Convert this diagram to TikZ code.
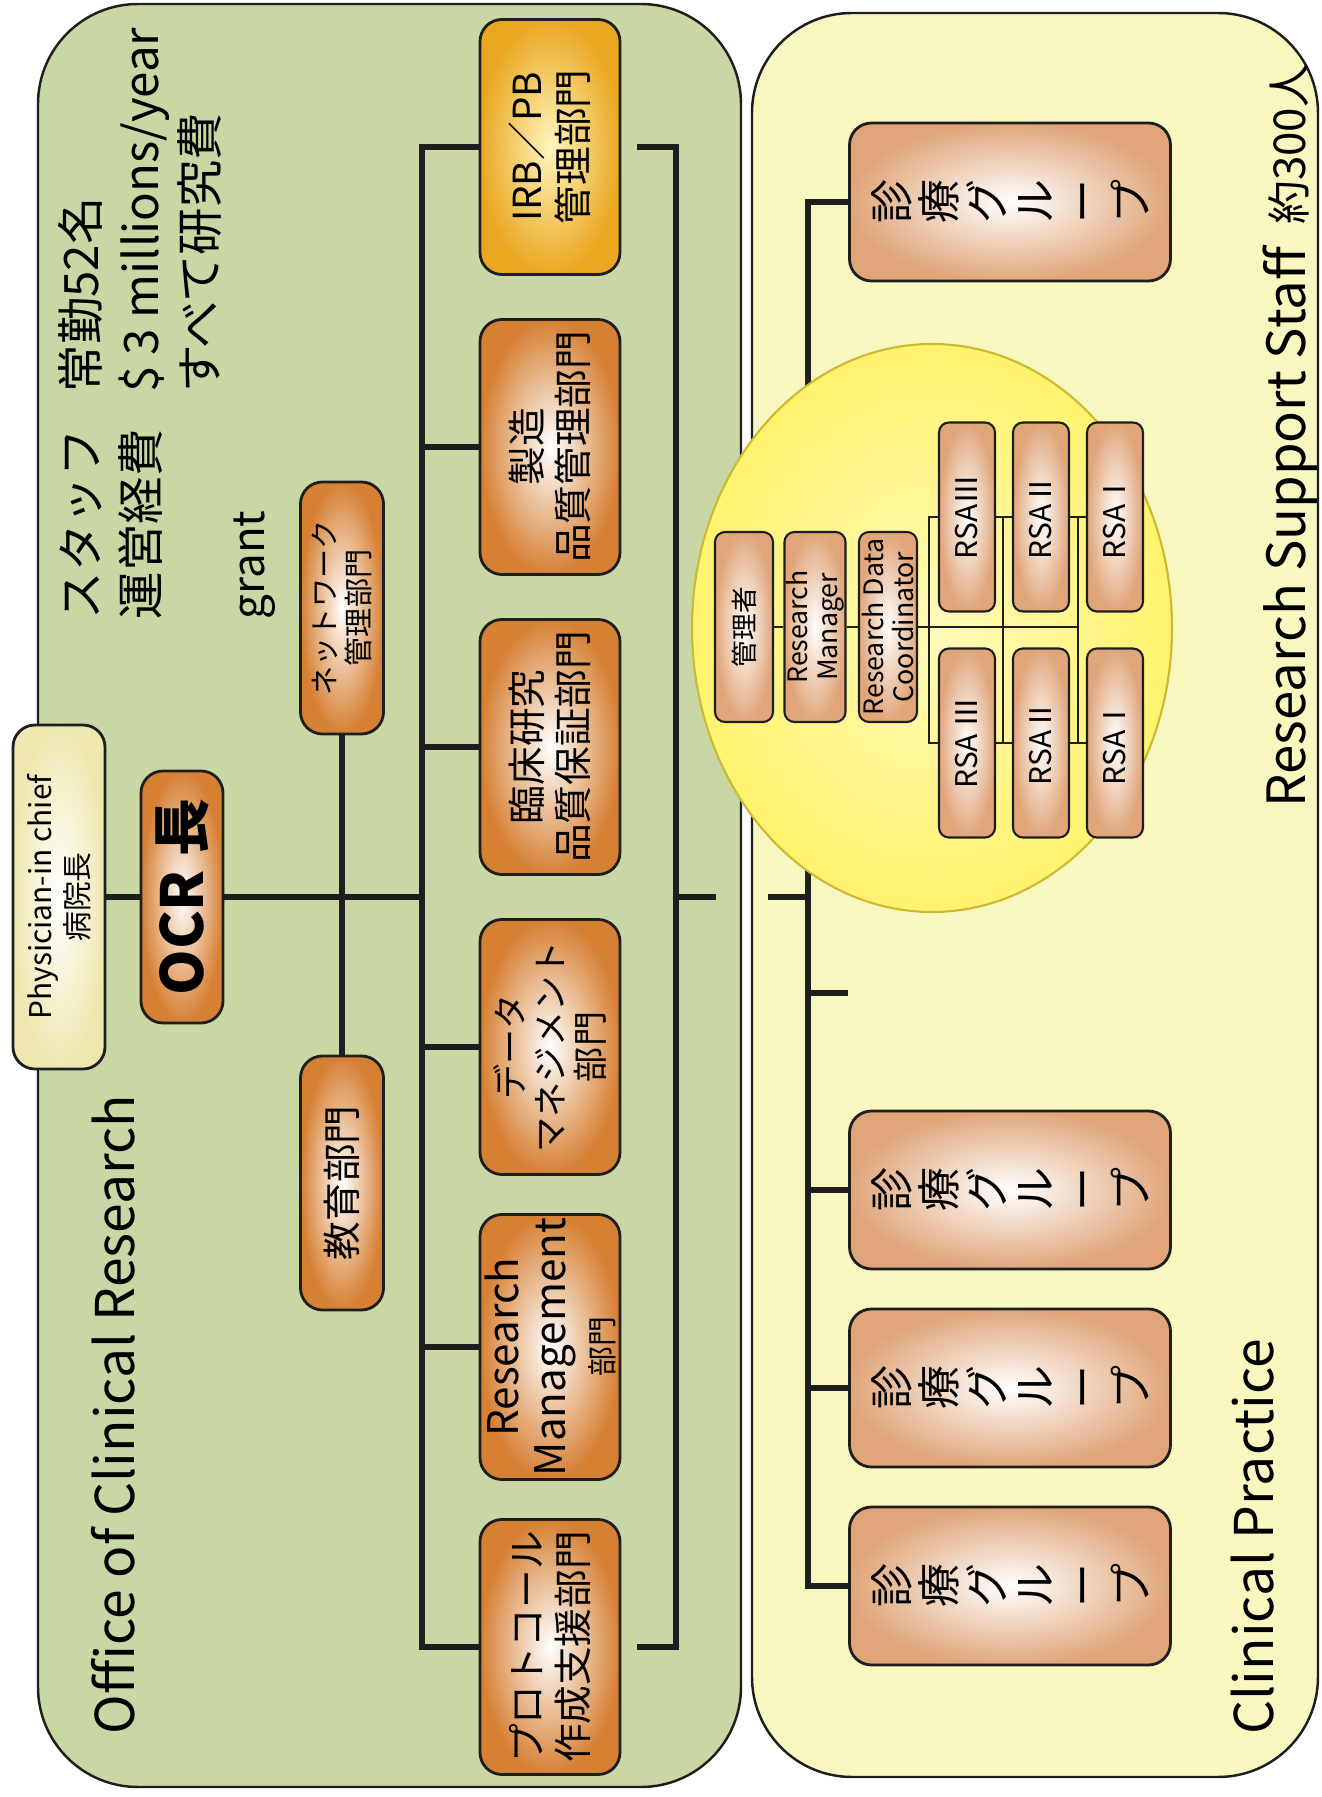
\documentclass[tikz,border=0pt]{standalone}
\usepackage{fontspec}
\setmainfont{Noto Sans CJK JP}
\usetikzlibrary{shapes.geometric, positioning, calc}

\definecolor{ocrgreen}{RGB}{200,215,163}
\definecolor{cpyellow}{RGB}{249,247,192}
\definecolor{deptorange}{RGB}{214,128,52}
\definecolor{irbgold}{RGB}{234,168,34}
\definecolor{irbglow}{RGB}{255,246,190}
\definecolor{groupsalmon}{RGB}{224,166,122}
\definecolor{chiefcream}{RGB}{238,232,176}
\definecolor{rssfill}{RGB}{255,243,110}
\definecolor{rssglow}{RGB}{255,250,185}
\definecolor{rssedge}{RGB}{205,185,50}
\definecolor{inkline}{RGB}{30,30,30}

\begin{document}
\begin{tikzpicture}[
    panel/.style={draw=inkline, line width=0.7pt, rounded corners=1cm},
    dept/.style={rectangle, rounded corners=0.22cm, draw=inkline, line width=0.8pt, inner color=white, outer color=deptorange, minimum width=2.55cm, minimum height=1.4cm, align=center, inner sep=1pt, font=\fontsize{11}{13}\selectfont},
    chief/.style={dept, outer color=chiefcream, minimum width=3.44cm, minimum height=0.92cm, font=\fontsize{8.5}{10.5}\selectfont},
    group/.style={dept, outer color=groupsalmon, minimum width=1.58cm, minimum height=3.21cm, font=\fontsize{12.5}{13.6}\selectfont},
    staffbox/.style={dept, rounded corners=0.1cm, line width=0.6pt, outer color=groupsalmon, minimum width=1.9cm, minimum height=0.58cm, inner sep=0.5pt, font=\fontsize{7.6}{8.4}\selectfont},
    rsabox/.style={staffbox, minimum width=1.89cm, minimum height=0.56cm, font=\fontsize{8.5}{9}\selectfont},
    bus/.style={draw=inkline, line width=1.7pt},
    rung/.style={draw=inkline, line width=0.5pt},
    caption/.style={anchor=base west, inner sep=0pt, font=\fontsize{15.2}{17}\selectfont},
    stat/.style={anchor=base west, inner sep=0pt, font=\fontsize{13.5}{15}\selectfont}
]
\useasboundingbox (0,0) rectangle (13.22,17.97);
\begin{scope}[rotate=90, transform shape]
% two panels
\draw[panel, fill=ocrgreen] (0.10,-0.38) rectangle (17.93,-7.41);
\draw[panel, fill=cpyellow] (0.20,-7.52) rectangle (17.84,-13.18);

% headings and figures
\node[caption] (ocrtitle) at (0.62,-1.34) {Office of Clinical Research};
\node[caption] (cptitle) at (0.62,-12.73) {Clinical Practice};
\node[caption, font=\fontsize{15}{17}\selectfont] (rsstitle) at (9.89,-13.05) {Research Support Staff};
\node[caption, anchor=base east, font=\fontsize{12.5}{14}\selectfont] (rsscount) at (17.34,-13.05) {約300人};
\node[stat] (staff) at (11.77,-0.98) {スタッフ};
\node[stat] (staffnum) at (14.04,-0.98) {常勤52名};
\node[stat] (budget) at (11.77,-1.58) {運営経費};
\node[stat] (budgetnum) at (14.04,-1.58) {\$ 3 millions/year};
\node[stat] (budgetsrc) at (14.04,-2.17) {すべて研究費};
\node[font=\fontsize{12.5}{14}\selectfont] (grant) at (12.32,-2.55) {grant};

% OCR tree
\coordinate (ocrbus) at (9.00,-4.22);
\coordinate (ocrlow) at (9.00,-6.76);
\node[chief] (chief) at (9.00,-0.59) {Physician-in chief\\病院長};
\node[dept, minimum width=2.52cm, minimum height=0.82cm, font=\bfseries\fontsize{16.5}{19}\selectfont] (ocrhead) at (9.00,-1.82) {OCR 長};
\node[dept, minimum width=2.52cm, minimum height=0.83cm, font=\fontsize{8.3}{9.8}\selectfont] (network) at (11.89,-3.42) {ネットワーク\\管理部門};
\node[dept, minimum width=2.54cm, minimum height=0.83cm] (education) at (6.14,-3.42) {教育部門};
\node[dept] (protocol) at (1.50,-5.50) {プロトコール\\作成支援部門};
\node[dept, font=\fontsize{12}{13.5}\selectfont] (resmgmt) at (4.50,-5.50) {Research\\Management\\\fontsize{8.5}{10}\selectfont 部門};
\node[dept, font=\fontsize{10}{11.5}\selectfont] (datamgmt) at (7.50,-5.50) {データ\\マネジメント\\部門};
\node[dept] (qaclin) at (10.50,-5.50) {臨床研究\\品質保証部門};
\node[dept] (qaprod) at (13.50,-5.50) {製造\\品質管理部門};
\node[dept, inner color=irbglow, outer color=irbgold] (irb) at (16.50,-5.50) {IRB／PB\\管理部門};

\draw[bus] (chief) -- (ocrhead);
\draw[bus] (ocrhead.south) -- (ocrbus);
\draw[bus] (education) -- (network);
\draw[bus] (protocol.north) |- (ocrbus) -| (irb.north);
\foreach \n in {resmgmt, datamgmt, qaclin, qaprod}
    \draw[bus] (\n.north) -- (\n.north |- ocrbus);
\draw[bus] ([yshift=-0.16cm]protocol.south) |- (ocrlow) -| ([yshift=-0.16cm]irb.south);
\draw[bus] (ocrlow) -- ++(0,-0.40);

% clinical groups
\coordinate (cplink) at (9.00,-8.08);
\coordinate (cpspare) at (8.04,-8.08);
\foreach \x/\n in {2.11/groupa, 4.09/groupb, 6.07/groupc, 15.95/groupd}
    \node[group] (\n) at (\x,-10.10) {診\\療\\グ\\ル\\ー\\プ};
\draw[bus] (cplink) -- ++(0,0.40);
\draw[bus] (groupa.north) |- (cplink) -| (groupd.north);
\foreach \n in {groupb, groupc}
    \draw[bus] (\n.north) -- (\n.north |- cplink);
\draw[bus] (cpspare) -- ++(0,-0.40);

% research support staff
\node[ellipse, draw=rssedge, line width=0.6pt, inner color=rssglow, outer color=rssfill, minimum width=5.68cm, minimum height=4.80cm, inner sep=0pt] (rss) at (11.69,-9.32) {};
\node[staffbox] (manager) at (11.70,-7.44) {管理者};
\node[staffbox] (resmanager) at (11.70,-8.15) {Research\\Manager};
\node[staffbox] (rdc) at (11.70,-8.88) {Research Data\\Coordinator};
\node[rsabox] (rsaIIIl) at (10.54,-9.67) {RSA Ⅲ};
\node[rsabox] (rsaIIl) at (10.54,-10.41) {RSAⅡ};
\node[rsabox] (rsaIl) at (10.54,-11.15) {RSAⅠ};
\node[rsabox] (rsaIIIr) at (12.80,-9.67) {RSAⅢ};
\node[rsabox] (rsaIIr) at (12.80,-10.41) {RSAⅡ};
\node[rsabox] (rsaIr) at (12.80,-11.15) {RSAⅠ};

\draw[rung] (manager) -- (resmanager) -- (rdc);
\draw[rung] (rdc.south) -- ++(0,-1.61);
\draw[rung] (rsaIIIl.north) -- ++(0,0.09) -| (rsaIIIr.north);
\draw[rung] (rsaIIIl) -- (rsaIIl) -- (rsaIl);
\draw[rung] (rsaIIIr) -- (rsaIIr) -- (rsaIr);
\draw[rung] ([yshift=-0.36cm]rsaIIIl.center) -- ([yshift=-0.36cm]rsaIIIr.center);
\draw[rung] ([yshift=-0.37cm]rsaIIl.center) -- ([yshift=-0.37cm]rsaIIr.center);
\end{scope}
\end{tikzpicture}
\end{document}
